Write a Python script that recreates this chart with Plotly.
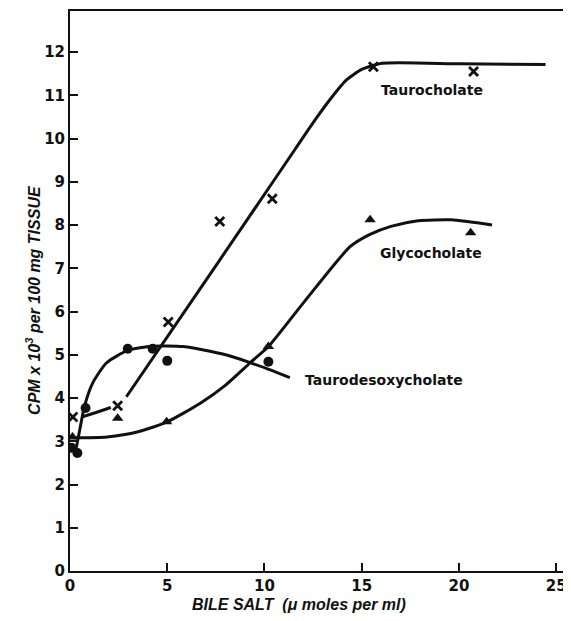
import plotly.graph_objects as go

# ---- measured data points ----
tauro_x = [0.15, 2.45, 5.05, 7.7, 10.4, 15.6, 20.75]
tauro_y = [3.56, 3.82, 5.76, 8.08, 8.61, 11.66, 11.55]

glyco_x = [0.13, 2.45, 4.97, 10.2, 15.43, 20.6]
glyco_y = [3.10, 3.53, 3.45, 5.19, 8.12, 7.82]

desoxy_x = [0.08, 0.38, 0.8, 2.97, 4.25, 5.0, 10.2]
desoxy_y = [2.85, 2.73, 3.77, 5.14, 5.14, 4.86, 4.84]

# ---- hand-drawn fitted curves ----
tauro_fit1_x = [0.6, 1.3, 2.1]
tauro_fit1_y = [3.56, 3.66, 3.78]
tauro_fit2_x = [2.9, 6.3, 9.0, 11.6, 12.6, 13.4, 14.2, 15.0, 16.05, 20.0, 24.45]
tauro_fit2_y = [4.03, 6.27, 8.05, 9.77, 10.43, 10.92, 11.35, 11.6, 11.74, 11.73, 11.71]

glyco_fit_x = [0.2, 1.9, 3.5, 5.0, 6.7, 8.0, 9.25, 10.2, 12.0, 14.4, 15.4, 16.5, 17.9, 19.6, 21.7]
glyco_fit_y = [3.08, 3.10, 3.22, 3.45, 3.88, 4.3, 4.81, 5.19, 6.2, 7.5, 7.78, 7.97, 8.1, 8.12, 8.0]

desoxy_fit_x = [0.3, 0.5, 0.74, 1.17, 1.87, 2.97, 4.25, 5.8, 7.2, 8.4, 9.25, 10.3, 11.3]
desoxy_fit_y = [2.8, 3.26, 3.8, 4.35, 4.81, 5.1, 5.2, 5.19, 5.08, 4.95, 4.82, 4.65, 4.47]

labels = ["Taurocholate", "Glycocholate", "Taurodesoxycholate"]
label_x = [15.9, 15.85, 12.0]
label_y = [11.13, 7.36, 4.42]

x_ticks = [0, 5, 10, 15, 20, 25]
y_ticks = list(range(0, 13))

x_title = "BILE SALT  (\u03bc moles per ml)"
y_title = "CPM x 10<sup>3</sup> per 100 mg TISSUE"

FONT = "Liberation Sans"
LABEL_FONT = "DejaVu Sans"
ink = "#111111"

fig = go.Figure()

def curve(xs, ys):
    fig.add_trace(go.Scatter(x=xs, y=ys, mode="lines",
                             line=dict(color=ink, width=3, shape="spline", smoothing=0.6),
                             hoverinfo="skip", showlegend=False))

curve(tauro_fit1_x, tauro_fit1_y)
curve(tauro_fit2_x, tauro_fit2_y)
curve(glyco_fit_x, glyco_fit_y)
curve(desoxy_fit_x, desoxy_fit_y)

fig.add_trace(go.Scatter(x=tauro_x, y=tauro_y, mode="markers", name="Taurocholate",
                         marker=dict(symbol="x-thin", size=9, line=dict(color=ink, width=2.8)),
                         showlegend=False))
fig.add_trace(go.Scatter(x=glyco_x, y=glyco_y, mode="markers", name="Glycocholate",
                         marker=dict(symbol="triangle-up", size=10, color=ink),
                         showlegend=False))
fig.add_trace(go.Scatter(x=desoxy_x, y=desoxy_y, mode="markers", name="Taurodesoxycholate",
                         marker=dict(symbol="circle", size=10, color=ink),
                         showlegend=False))

for t, lx, ly in zip(labels, label_x, label_y):
    fig.add_annotation(x=lx, y=ly, text=t, showarrow=False, xanchor="left", yanchor="middle",
                       font=dict(family=LABEL_FONT, size=14, color=ink, weight="bold"))

# axis titles as annotations for precise placement
fig.add_annotation(xref="paper", yref="paper", x=0.4636, y=-0.059, text=x_title,
                   showarrow=False, xanchor="center", yanchor="middle",
                   font=dict(family=FONT, size=16, color=ink, style="italic", weight="bold"))
fig.add_annotation(xref="paper", yref="paper", x=-0.075, y=0.484, text=y_title, textangle=-90,
                   showarrow=False, xanchor="center", yanchor="middle",
                   font=dict(family=FONT, size=16, color=ink, style="italic", weight="bold"))

axis_common = dict(showgrid=False, zeroline=False, showline=True, linecolor=ink, linewidth=2,
                   mirror=True, ticks="inside", ticklen=8, tickwidth=2, tickcolor=ink,
                   automargin=False,
                   tickfont=dict(family=LABEL_FONT, size=15, color=ink, weight="bold"))

# page body has an 8px default margin, so the figure is sized to fit inside it
fig.update_layout(
    width=563, height=613,
    margin=dict(l=62, r=7, t=3, b=50),
    paper_bgcolor="white", plot_bgcolor="white",
    xaxis=dict(range=[0, 25.4], tickvals=x_ticks, ticktext=[str(v) for v in x_ticks],
               **axis_common),
    yaxis=dict(range=[0, 12.95], tickvals=y_ticks, ticktext=[str(v) for v in y_ticks],
               **axis_common),
)

fig.write_html("out.html")
